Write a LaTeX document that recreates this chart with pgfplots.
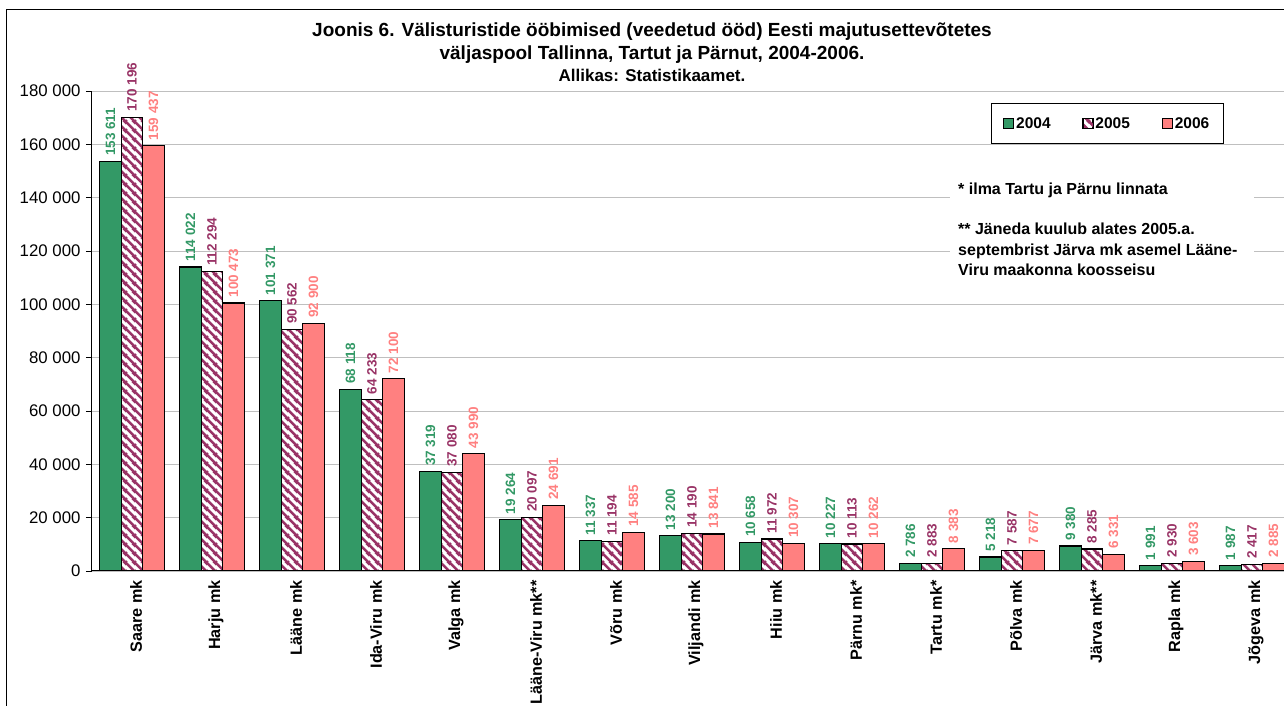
\documentclass[border=0pt]{standalone}
\usepackage{fontspec}
\setmainfont{Liberation Sans}
\usepackage{pgfplots}
\pgfplotsset{compat=1.18}
\usetikzlibrary{patterns}
\definecolor{cgreen}{HTML}{339966}
\definecolor{cpurple}{HTML}{993366}
\definecolor{cred}{HTML}{FF8080}
\pgfdeclarepatternformonly{thickstripes}{\pgfqpoint{0pt}{0pt}}{\pgfqpoint{9pt}{9pt}}{\pgfqpoint{9pt}{9pt}}{
  \pgfsetlinewidth{2.8pt}
  \pgfsetrectcap
  \pgfpathmoveto{\pgfqpoint{0pt}{9pt}}\pgfpathlineto{\pgfqpoint{9pt}{0pt}}
  \pgfpathmoveto{\pgfqpoint{-1pt}{1pt}}\pgfpathlineto{\pgfqpoint{1pt}{-1pt}}
  \pgfpathmoveto{\pgfqpoint{8pt}{10pt}}\pgfpathlineto{\pgfqpoint{10pt}{8pt}}
  \pgfusepath{stroke}
}
\pgfplotstableread{
x y2004 y2005 y2006 l2004 l2005 l2006
0 153611 170196 159437 153~611 170~196 159~437
1 114022 112294 100473 114~022 112~294 100~473
2 101371 90562 92900 101~371 90~562 92~900
3 68118 64233 72100 68~118 64~233 72~100
4 37319 37080 43990 37~319 37~080 43~990
5 19264 20097 24691 19~264 20~097 24~691
6 11337 11194 14585 11~337 11~194 14~585
7 13200 14190 13841 13~200 14~190 13~841
8 10658 11972 10307 10~658 11~972 10~307
9 10227 10113 10262 10~227 10~113 10~262
10 2786 2883 8383 2~786 2~883 8~383
11 5218 7587 7677 5~218 7~587 7~677
12 9380 8285 6331 9~380 8~285 6~331
13 1991 2930 3603 1~991 2~930 3~603
14 1987 2417 2885 1~987 2~417 2~885
}\datatable
\begin{document}
\begin{tikzpicture}[x=1pt,y=1pt]
\useasboundingbox (0,0) rectangle (1284,706);
\fill[white] (0,0) rectangle (1284,706);
\draw[black, line width=1pt] (6,-5) -- (6,696) -- (1290,696);
\begin{axis}[
  at={(92pt,135pt)}, anchor=south west,
  scale only axis, width=1192pt, height=480pt,
  ybar=0pt, bar width=21.5pt,
  xmin=-0.5, xmax=14.4, ymin=0, ymax=180000,
  axis lines*=left,
  axis line style={black, line width=1pt},
  ymajorgrids, grid style={black!25, line width=0.8pt},
  scaled y ticks=false,
  ytick={0,20000,40000,60000,80000,100000,120000,140000,160000,180000},
  yticklabels={0,20 000,40 000,60 000,80 000,100 000,120 000,140 000,160 000,180 000},
  yticklabel style={font=\fontsize{16.8}{17}\selectfont, xshift=-2pt},
  tick align=outside,
  major tick length=6pt,
  minor tick length=6pt,
  ytick style={black, line width=0.8pt},
  xtick={0,...,14},
  xtick style={draw=none},
  minor xtick={-0.5,0.5,...,14.5},
  minor x tick style={black, line width=0.8pt},
  xticklabels={Saare mk,Harju mk,Lääne mk,Ida-Viru mk,Valga mk,Lääne-Viru mk**,Võru mk,Viljandi mk,Hiiu mk,Pärnu mk*,Tartu mk*,Põlva mk,Järva mk**,Rapla mk,Jõgeva mk},
  xticklabel style={rotate=90, anchor=east, font=\bfseries\fontsize{16.2}{17}\selectfont, yshift=-4pt},
  clip=true,
  nodes near coords,
  point meta=explicit symbolic,
  every node near coord/.append style={rotate=90, anchor=west, font=\bfseries\fontsize{13.5}{14}\selectfont, inner sep=2pt, xshift=3pt},
  legend columns=3,
  legend image code/.code={\draw[#1, line width=0.8pt] (0pt,-5pt) rectangle (10pt,5pt);},
  legend style={at={(rel axis cs:0.7542,0.975)}, anchor=north west, draw=black, line width=0.8pt,
    font=\bfseries\fontsize{15.5}{16}\selectfont, inner xsep=12pt, inner ysep=12pt,
    /tikz/every even column/.append style={column sep=30pt},
    nodes={inner xsep=2pt}},
]
\addplot[fill=cgreen, draw=black, line width=1.2pt, every node near coord/.append style={text=cgreen}] table[x=x, y=y2004, meta=l2004] {\datatable};
\addplot[preaction={fill=white}, pattern=thickstripes, pattern color=cpurple, draw=black, line width=1.2pt, every node near coord/.append style={text=cpurple}] table[x=x, y=y2005, meta=l2005] {\datatable};
\addplot[fill=cred, draw=black, line width=1.2pt, every node near coord/.append style={text=cred}] table[x=x, y=y2006, meta=l2006] {\datatable};
\legend{2004,2005,2006}
\end{axis}
\node[font=\bfseries\fontsize{19}{20}\selectfont, anchor=base] at (652,669) {Joonis 6. Välisturistide ööbimised (veedetud ööd) Eesti majutusettevõtetes};
\node[font=\bfseries\fontsize{19}{20}\selectfont, anchor=base] at (652,646.5) {väljaspool Tallinna, Tartut ja Pärnut, 2004-2006.};
\node[font=\bfseries\fontsize{17}{18}\selectfont, anchor=base] at (652,624.5) {Allikas: Statistikaamet.};
\fill[white] (950,531) rectangle (1254,421);
\begin{scope}[every node/.style={font=\bfseries\fontsize{16}{16}\selectfont, anchor=base west, inner sep=0pt}]
\node at (958,511) {* ilma Tartu ja Pärnu linnata};
\node at (958,471) {** Jäneda kuulub alates 2005.a.};
\node at (958,450.5) {septembrist Järva mk asemel Lääne-};
\node at (958,430) {Viru maakonna koosseisu};
\end{scope}
\end{tikzpicture}
\end{document}
